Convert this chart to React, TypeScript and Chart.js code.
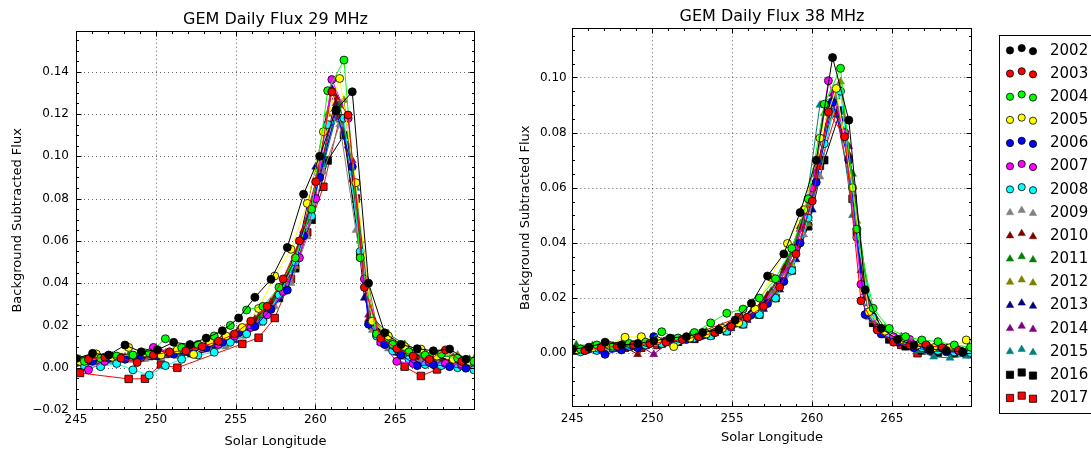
import React, { useEffect, useRef } from 'react';
import { Chart, registerables } from 'chart.js';

Chart.register(...registerables);

const FONT = "'DejaVu Sans', 'Liberation Sans', sans-serif";

const YEARS = ['2002', '2003', '2004', '2005', '2006', '2007', '2008', '2009', '2010', '2011', '2012', '2013', '2014', '2015', '2016', '2017'];
const COLORS = ['#000000', '#ff0000', '#00ff00', '#ffff00', '#0000ff', '#ff00ff', '#00ffff', '#808080', '#800000', '#008000', '#808000', '#000080', '#800080', '#008080', '#000000', '#ff0000'];
const MARKERS = ['circle', 'circle', 'circle', 'circle', 'circle', 'circle', 'circle', 'triangle', 'triangle', 'triangle', 'triangle', 'triangle', 'triangle', 'triangle', 'rect', 'rect'];

// Solar longitude of the daily samples (four day-phase groups)
const SL_A = [245.02, 246.04, 247.05, 248.07, 249.09, 250.10, 251.12, 252.14, 253.16, 254.17, 255.19, 256.21, 257.22, 258.24, 259.26, 260.27, 261.29, 262.31, 263.33, 264.34, 265.36, 266.38, 267.39, 268.41, 269.43];
const SL_B = [245.25, 246.27, 247.28, 248.30, 249.32, 250.33, 251.35, 252.37, 253.39, 254.40, 255.42, 256.44, 257.45, 258.47, 259.49, 260.50, 261.52, 262.54, 263.56, 264.57, 265.59, 266.61, 267.62, 268.64, 269.66];
const SL_C = [245.52, 246.54, 247.55, 248.57, 249.59, 250.60, 251.62, 252.64, 253.66, 254.67, 255.69, 256.71, 257.72, 258.74, 259.76, 260.77, 261.79, 262.81, 263.83, 264.84, 265.86, 266.88, 267.89, 268.91, 269.93];
const SL_D = [245.78, 246.80, 247.81, 248.83, 249.85, 250.86, 251.88, 252.90, 253.92, 254.93, 255.95, 256.97, 257.98, 259.00, 260.02, 261.03, 262.05, 263.07, 264.09, 265.10, 266.12, 267.14, 268.15, 269.17];

// 29 MHz background subtracted flux
const F29_2002 = [0.0044, 0.0068, 0.0060, 0.0107, 0.0075, 0.0085, 0.0120, 0.0110, 0.0140, 0.0175, 0.0235, 0.0333, 0.0418, 0.0569, 0.0821, 0.1000, 0.1220, 0.1305, 0.0400, 0.0165, 0.0110, 0.0090, 0.0080, 0.0088, 0.0040];
const F29_2003 = [0.0040, 0.0050, 0.0045, 0.0025, 0.0060, 0.0075, 0.0080, 0.0100, 0.0125, 0.0160, 0.0220, 0.0290, 0.0420, 0.0600, 0.0880, 0.1305, 0.1195, 0.0380, 0.0140, 0.0090, 0.0055, 0.0040, 0.0084, 0.0030];
const F29_2004 = [0.0030, 0.0045, 0.0055, 0.0060, 0.0070, 0.0137, 0.0095, 0.0110, 0.0150, 0.0200, 0.0273, 0.0290, 0.0380, 0.0520, 0.0750, 0.1310, 0.1455, 0.0520, 0.0160, 0.0110, 0.0075, 0.0060, 0.0065, 0.0045, 0.0030];
const F29_2005 = [0.0030, 0.0065, 0.0050, 0.0096, 0.0070, 0.0060, 0.0085, 0.0063, 0.0120, 0.0150, 0.0190, 0.0280, 0.0434, 0.0560, 0.0777, 0.1116, 0.1368, 0.0875, 0.0220, 0.0150, 0.0100, 0.0088, 0.0055, 0.0040, 0.0030];
const F29_2006 = [0.0025, 0.0030, 0.0045, 0.0040, 0.0050, 0.0055, 0.0065, 0.0070, 0.0095, 0.0120, 0.0165, 0.0195, 0.0276, 0.0367, 0.0624, 0.0900, 0.1215, 0.0950, 0.0206, 0.0110, 0.0060, 0.0010, 0.0015, 0.0005, -0.0002];
const F29_2007 = [-0.0010, 0.0030, 0.0050, 0.0040, 0.0096, 0.0070, 0.0085, 0.0090, 0.0110, 0.0150, 0.0190, 0.0250, 0.0360, 0.0520, 0.0800, 0.1363, 0.1180, 0.0420, 0.0120, 0.0030, 0.0020, 0.0025, 0.0020, 0.0010];
const F29_2008 = [0.0010, 0.0005, 0.0020, -0.0010, -0.0035, 0.0010, 0.0040, 0.0060, 0.0073, 0.0120, 0.0160, 0.0220, 0.0344, 0.0500, 0.0717, 0.1150, 0.1180, 0.0550, 0.0150, 0.0080, 0.0040, 0.0015, 0.0010, 0.0000, -0.0010];
const F29_2009 = [0.0020, 0.0030, 0.0030, 0.0035, 0.0040, 0.0050, 0.0055, 0.0070, 0.0085, 0.0099, 0.0150, 0.0210, 0.0290, 0.0400, 0.0620, 0.0927, 0.1150, 0.0650, 0.0178, 0.0090, 0.0050, 0.0030, 0.0025, 0.0020, 0.0015];
const F29_2010 = [0.0030, 0.0040, 0.0045, 0.0050, 0.0040, 0.0060, 0.0070, 0.0090, 0.0110, 0.0140, 0.0180, 0.0230, 0.0310, 0.0440, 0.0650, 0.0930, 0.1280, 0.0890, 0.0230, 0.0130, 0.0080, 0.0050, 0.0040, 0.0030, 0.0025];
const F29_2011 = [0.0040, 0.0050, 0.0055, 0.0060, 0.0065, 0.0075, 0.0080, 0.0095, 0.0115, 0.0140, 0.0180, 0.0240, 0.0330, 0.0470, 0.0690, 0.1000, 0.1240, 0.0800, 0.0240, 0.0160, 0.0110, 0.0080, 0.0060, 0.0050, 0.0040];
const F29_2012 = [0.0035, 0.0045, 0.0050, 0.0055, 0.0060, 0.0070, 0.0080, 0.0095, 0.0120, 0.0150, 0.0190, 0.0250, 0.0340, 0.0480, 0.0720, 0.1200, 0.1265, 0.0600, 0.0200, 0.0120, 0.0090, 0.0070, 0.0060, 0.0060, 0.0040];
const F29_2013 = [0.0025, 0.0035, 0.0040, 0.0045, 0.0050, 0.0060, 0.0070, 0.0085, 0.0105, 0.0130, 0.0200, 0.0270, 0.0400, 0.0600, 0.0950, 0.1320, 0.1050, 0.0330, 0.0120, 0.0070, 0.0040, 0.0030, 0.0025, 0.0020];
const F29_2014 = [0.0020, 0.0030, 0.0035, 0.0040, 0.0045, 0.0055, 0.0065, 0.0080, 0.0100, 0.0125, 0.0165, 0.0215, 0.0290, 0.0420, 0.0630, 0.0920, 0.1250, 0.0980, 0.0250, 0.0120, 0.0070, 0.0040, 0.0030, 0.0025, 0.0020];
const F29_2015 = [0.0030, 0.0040, 0.0045, 0.0050, 0.0055, 0.0065, 0.0075, 0.0090, 0.0110, 0.0135, 0.0175, 0.0230, 0.0320, 0.0460, 0.0700, 0.0960, 0.1250, 0.0850, 0.0200, 0.0140, 0.0080, 0.0055, 0.0040, 0.0030, 0.0025];
const F29_2016 = [0.0035, 0.0030, 0.0045, 0.0050, 0.0055, 0.0065, 0.0075, 0.0090, 0.0110, 0.0140, 0.0180, 0.0240, 0.0330, 0.0470, 0.0700, 0.0980, 0.1100, 0.0528, 0.0170, 0.0100, 0.0070, 0.0050, 0.0040, 0.0030, 0.0025];
const F29_2017 = [-0.0025, null, null, -0.0053, -0.0052, 0.0015, 0.0000, null, null, null, 0.0113, 0.0142, 0.0235, 0.0420, 0.0640, 0.0856, 0.1180, 0.0800, 0.0200, 0.0110, 0.0005, -0.0039, -0.0008, 0.0040, null];

// 38 MHz background subtracted flux
const F38_2002 = [0.0015, 0.0022, 0.0040, 0.0030, 0.0035, 0.0045, 0.0055, 0.0060, 0.0075, 0.0085, 0.0120, 0.0181, 0.0280, 0.0360, 0.0510, 0.0700, 0.1072, 0.0845, 0.0230, 0.0090, 0.0050, 0.0030, 0.0015, 0.0010, 0.0005];
const F38_2003 = [0.0010, 0.0020, 0.0025, 0.0030, 0.0035, 0.0040, 0.0050, 0.0060, 0.0075, 0.0100, 0.0130, 0.0170, 0.0240, 0.0360, 0.0552, 0.0875, 0.0785, 0.0190, 0.0084, 0.0040, 0.0030, 0.0030, 0.0020, 0.0010];
const F38_2004 = [0.0015, 0.0030, 0.0025, 0.0035, 0.0040, 0.0078, 0.0055, 0.0075, 0.0110, 0.0145, 0.0160, 0.0200, 0.0270, 0.0380, 0.0560, 0.0903, 0.1033, 0.0450, 0.0163, 0.0090, 0.0060, 0.0048, 0.0042, 0.0030, 0.0022];
const F38_2005 = [0.0010, 0.0020, 0.0030, 0.0058, 0.0060, 0.0045, 0.0024, 0.0055, 0.0070, 0.0090, 0.0110, 0.0160, 0.0275, 0.0398, 0.0520, 0.0780, 0.0960, 0.0600, 0.0150, 0.0080, 0.0050, 0.0030, 0.0020, 0.0020, 0.0048];
const F38_2006 = [0.0010, 0.0015, -0.0004, 0.0012, 0.0020, 0.0060, 0.0040, 0.0050, 0.0065, 0.0085, 0.0110, 0.0140, 0.0180, 0.0260, 0.0400, 0.0620, 0.0910, 0.0700, 0.0140, 0.0070, 0.0040, 0.0020, 0.0010, 0.0005, 0.0003];
const F38_2007 = [0.0010, 0.0020, 0.0025, 0.0030, 0.0035, 0.0045, 0.0050, 0.0060, 0.0075, 0.0095, 0.0130, 0.0180, 0.0260, 0.0380, 0.0600, 0.0988, 0.0800, 0.0250, 0.0090, 0.0060, 0.0050, 0.0030, 0.0020, 0.0010];
const F38_2008 = [0.0005, 0.0010, 0.0020, 0.0025, 0.0030, 0.0035, 0.0045, 0.0055, 0.0063, 0.0080, 0.0105, 0.0140, 0.0200, 0.0300, 0.0490, 0.0760, 0.0950, 0.0420, 0.0130, 0.0070, 0.0040, 0.0020, 0.0010, 0.0005, 0.0002];
const F38_2009 = [0.0010, 0.0015, 0.0020, 0.0025, 0.0030, 0.0035, 0.0045, 0.0055, 0.0068, 0.0085, 0.0110, 0.0145, 0.0210, 0.0290, 0.0430, 0.0640, 0.0940, 0.0600, 0.0130, 0.0070, 0.0040, 0.0025, 0.0015, 0.0010, 0.0008];
const F38_2010 = [0.0012, 0.0018, 0.0025, 0.0030, -0.0004, 0.0040, 0.0048, 0.0058, 0.0072, 0.0090, 0.0115, 0.0150, 0.0210, 0.0310, 0.0460, 0.0660, 0.0920, 0.0720, 0.0200, 0.0090, 0.0050, 0.0030, 0.0018, 0.0012, 0.0008];
const F38_2011 = [0.0030, 0.0028, 0.0030, 0.0035, 0.0040, 0.0045, 0.0052, 0.0062, 0.0078, 0.0095, 0.0120, 0.0160, 0.0225, 0.0330, 0.0480, 0.0700, 0.0930, 0.0650, 0.0180, 0.0090, 0.0055, 0.0032, 0.0020, 0.0012, 0.0010];
const F38_2012 = [0.0015, 0.0020, 0.0028, 0.0032, 0.0036, 0.0042, 0.0050, 0.0060, 0.0074, 0.0092, 0.0118, 0.0155, 0.0220, 0.0320, 0.0470, 0.0870, 0.0984, 0.0480, 0.0120, 0.0065, 0.0040, 0.0025, 0.0015, 0.0010, 0.0008];
const F38_2013 = [0.0010, 0.0018, 0.0022, 0.0028, 0.0033, 0.0040, 0.0048, 0.0058, 0.0072, 0.0090, 0.0120, 0.0160, 0.0230, 0.0340, 0.0520, 0.0900, 0.0850, 0.0300, 0.0100, 0.0050, 0.0030, 0.0020, 0.0012, 0.0008];
const F38_2014 = [0.0012, 0.0018, 0.0022, 0.0028, 0.0032, -0.0004, 0.0045, 0.0055, 0.0070, 0.0088, 0.0112, 0.0145, 0.0205, 0.0300, 0.0450, 0.0650, 0.0940, 0.0750, 0.0220, 0.0090, 0.0050, 0.0030, 0.0020, 0.0010, 0.0005];
const F38_2015 = [0.0015, 0.0020, 0.0028, 0.0032, 0.0038, 0.0045, 0.0052, 0.0062, 0.0075, 0.0092, 0.0118, 0.0155, 0.0215, 0.0320, 0.0480, 0.0900, 0.0940, 0.0500, 0.0140, 0.0075, 0.0060, 0.0010, -0.0013, -0.0017, -0.0010];
const F38_2016 = [0.0010, 0.0015, 0.0020, 0.0025, 0.0030, 0.0035, 0.0042, 0.0052, 0.0065, 0.0080, 0.0105, 0.0140, 0.0200, 0.0300, 0.0460, 0.0700, 0.0880, 0.0440, 0.0110, 0.0050, 0.0025, 0.0010, 0.0002, 0.0000, -0.0003];
const F38_2017 = [0.0010, null, null, 0.0020, 0.0020, 0.0030, 0.0040, null, null, null, 0.0130, 0.0145, 0.0210, 0.0310, 0.0470, 0.0680, 0.0870, 0.0560, 0.0140, 0.0070, 0.0030, 0.0000, 0.0005, 0.0020, null];

const X_TICKS = [245, 250, 255, 260, 265];
const Y29_TICKS = [-0.02, 0, 0.02, 0.04, 0.06, 0.08, 0.1, 0.12, 0.14];
const Y38_TICKS = [0, 0.02, 0.04, 0.06, 0.08, 0.1];

const SL_OF_YEAR = [SL_A, SL_D, SL_C, SL_B, SL_A, SL_D, SL_C, SL_B, SL_A, SL_B, SL_C, SL_D, SL_A, SL_B, SL_C, SL_B];
const FLUX29 = [F29_2002, F29_2003, F29_2004, F29_2005, F29_2006, F29_2007, F29_2008, F29_2009, F29_2010, F29_2011, F29_2012, F29_2013, F29_2014, F29_2015, F29_2016, F29_2017];
const FLUX38 = [F38_2002, F38_2003, F38_2004, F38_2005, F38_2006, F38_2007, F38_2008, F38_2009, F38_2010, F38_2011, F38_2012, F38_2013, F38_2014, F38_2015, F38_2016, F38_2017];

function fmt(v: number) {
  return v < -1e-9 ? '\u2212' + Math.abs(v).toFixed(2) : Math.abs(v).toFixed(2);
}

function buildDatasets(flux: (number | null)[][]) {
  return YEARS.map((yr, i) => {
    const m = MARKERS[i];
    const c = COLORS[i];
    const radius = m === 'circle' ? 4 : m === 'triangle' ? 4.6 : 5.3;
    return {
      label: yr,
      data: SL_OF_YEAR[i].map((x, k) => ({ x, y: flux[i][k] })),
      borderColor: c,
      backgroundColor: c,
      borderWidth: 1,
      pointStyle: m,
      pointRadius: radius,
      pointHoverRadius: radius,
      pointBackgroundColor: c,
      pointBorderColor: m === 'triangle' ? c : '#000000',
      pointBorderWidth: m === 'triangle' ? 0.5 : 0.8,
      tension: 0,
      spanGaps: true,
      fill: false,
      order: i,
    };
  });
}

function axesDecor(xMajor: number[], yMajor: number[], xMinorStep: number, yMinorStep: number) {
  const minorList = (min: number, max: number, step: number) => {
    const out: number[] = [];
    for (let k = Math.ceil(min / step - 1e-6); k * step <= max + 1e-9; k++) out.push(k * step);
    return out;
  };
  return {
    id: 'axesDecor',
    beforeDatasetsDraw(chart: any) {
      const { ctx, chartArea: a, scales } = chart;
      ctx.save();
      ctx.strokeStyle = 'rgba(0,0,0,0.6)';
      ctx.lineWidth = 1;
      ctx.setLineDash([1, 3]);
      for (const v of xMajor) {
        const px = Math.round(scales.x.getPixelForValue(v)) + 0.5;
        if (px <= a.left + 1 || px >= a.right - 1) continue;
        ctx.beginPath();
        ctx.moveTo(px, a.top);
        ctx.lineTo(px, a.bottom);
        ctx.stroke();
      }
      for (const v of yMajor) {
        const py = Math.round(scales.y.getPixelForValue(v)) + 0.5;
        if (py <= a.top + 1 || py >= a.bottom - 1) continue;
        ctx.beginPath();
        ctx.moveTo(a.left, py);
        ctx.lineTo(a.right, py);
        ctx.stroke();
      }
      ctx.restore();
    },
    afterDatasetsDraw(chart: any) {
      const { ctx, chartArea: a, scales } = chart;
      const L = Math.round(a.left) + 0.5;
      const R = Math.round(a.right) - 0.5;
      const T = Math.round(a.top) + 0.5;
      const B = Math.round(a.bottom) - 0.5;
      ctx.save();
      ctx.strokeStyle = '#000';
      ctx.lineWidth = 1;
      ctx.setLineDash([]);
      const tickX = (v: number, len: number) => {
        const px = Math.round(scales.x.getPixelForValue(v)) + 0.5;
        if (px < L || px > R) return;
        ctx.beginPath();
        ctx.moveTo(px, B); ctx.lineTo(px, B - len);
        ctx.moveTo(px, T); ctx.lineTo(px, T + len);
        ctx.stroke();
      };
      const tickY = (v: number, len: number) => {
        const py = Math.round(scales.y.getPixelForValue(v)) + 0.5;
        if (py < T || py > B) return;
        ctx.beginPath();
        ctx.moveTo(L, py); ctx.lineTo(L + len, py);
        ctx.moveTo(R, py); ctx.lineTo(R - len, py);
        ctx.stroke();
      };
      minorList(scales.x.min, scales.x.max, xMinorStep).forEach((v) => tickX(v, 2.5));
      minorList(scales.y.min, scales.y.max, yMinorStep).forEach((v) => tickY(v, 2.5));
      xMajor.forEach((v) => tickX(v, 5));
      yMajor.forEach((v) => tickY(v, 5));
      ctx.strokeRect(L, T, R - L, B - T);
      ctx.restore();
    },
  };
}

function drawMarker(ctx: CanvasRenderingContext2D, style: string, x: number, y: number, color: string) {
  ctx.beginPath();
  if (style === 'circle') {
    ctx.arc(x, y, 3.6, 0, Math.PI * 2);
  } else if (style === 'triangle') {
    const r = 4.3;
    ctx.moveTo(x, y - r);
    ctx.lineTo(x + r * 0.866, y + r * 0.5);
    ctx.lineTo(x - r * 0.866, y + r * 0.5);
    ctx.closePath();
  } else {
    ctx.rect(x - 3.6, y - 3.6, 7.2, 7.2);
  }
  ctx.fillStyle = color;
  ctx.fill();
  ctx.strokeStyle = style === 'triangle' ? color : '#000';
  ctx.lineWidth = style === 'triangle' ? 0.5 : 0.8;
  ctx.stroke();
}

const yearLegend = {
  id: 'yearLegend',
  afterDraw(chart: any) {
    const ctx = chart.ctx as CanvasRenderingContext2D;
    const left = 499.5;
    const top = 35.5;
    const bottom = 413.5;
    ctx.save();
    ctx.fillStyle = '#ffffff';
    ctx.fillRect(left, top, 200, bottom - top);
    ctx.strokeStyle = '#000';
    ctx.lineWidth = 1;
    ctx.strokeRect(left, top, 200, bottom - top);
    ctx.font = `15px ${FONT}`;
    ctx.textBaseline = 'middle';
    ctx.textAlign = 'left';
    const offs: [number, number][] = [[510, -0.3], [521.7, -2.6], [533, 0.5]];
    YEARS.forEach((yr, i) => {
      const cy = 50.7 + i * 23.17;
      offs.forEach(([mx, dy]) => drawMarker(ctx, MARKERS[i], mx, cy + dy, COLORS[i]));
      ctx.fillStyle = '#000';
      ctx.fillText(yr, 550, cy);
    });
    ctx.restore();
  },
};

type Panel = {
  title: string;
  flux: (number | null)[][];
  yMin: number;
  yMax: number;
  yTicks: number[];
  yWidth: number;
  xHeight: number;
  padRight: number;
  titlePad: { top: number; bottom: number };
  yTitlePad: number;
  xTitlePad: number;
  xTickPad: number;
  yTickPad: number;
  extra: any[];
};

function makeConfig(p: Panel): any {
  return {
    type: 'line',
    data: { datasets: buildDatasets(p.flux) },
    plugins: [axesDecor(X_TICKS, p.yTicks, 1, 0.005), ...p.extra],
    options: {
      responsive: false,
      animation: false,
      devicePixelRatio: 1,
      events: [],
      layout: { padding: { left: 0, right: p.padRight, top: 0, bottom: 0 } },
      plugins: {
        legend: { display: false },
        tooltip: { enabled: false },
        title: {
          display: true,
          text: p.title,
          color: '#000',
          font: { family: FONT, size: 16, weight: 'normal' },
          padding: p.titlePad,
          fullSize: false,
        },
      },
      scales: {
        x: {
          type: 'linear',
          min: 245,
          max: 270,
          afterBuildTicks: (s: any) => { s.ticks = X_TICKS.map((v) => ({ value: v })); },
          afterFit: (s: any) => { s.height = p.xHeight; },
          grid: { display: false, drawTicks: false },
          border: { display: false },
          ticks: {
            autoSkip: false,
            maxRotation: 0,
            color: '#000',
            padding: p.xTickPad,
            font: { family: FONT, size: 12 },
            callback: (v: any) => String(Math.round(Number(v))),
          },
          title: {
            display: true,
            text: 'Solar Longitude',
            color: '#000',
            font: { family: FONT, size: 13 },
            padding: { top: 0, bottom: p.xTitlePad },
          },
        },
        y: {
          type: 'linear',
          min: p.yMin,
          max: p.yMax,
          afterBuildTicks: (s: any) => { s.ticks = p.yTicks.map((v) => ({ value: v })); },
          afterFit: (s: any) => { s.width = p.yWidth; },
          grid: { display: false, drawTicks: false },
          border: { display: false },
          ticks: {
            autoSkip: false,
            color: '#000',
            padding: p.yTickPad,
            font: { family: FONT, size: 12 },
            callback: (v: any) => fmt(Number(v)),
          },
          title: {
            display: true,
            text: 'Background Subtracted Flux',
            color: '#000',
            font: { family: FONT, size: 13 },
            padding: { top: p.yTitlePad, bottom: 0 },
          },
        },
      },
    },
  };
}

const LEFT_PANEL: Panel = {
  title: 'GEM Daily Flux 29 MHz',
  flux: FLUX29,
  yMin: -0.02,
  yMax: 0.1594,
  yTicks: Y29_TICKS,
  yWidth: 76,
  xHeight: 39,
  padRight: 25,
  titlePad: { top: 9.9, bottom: 1.6 },
  yTitlePad: 10.2,
  xTitlePad: 0,
  xTickPad: 2.2,
  yTickPad: 7,
  extra: [],
};

const RIGHT_PANEL: Panel = {
  title: 'GEM Daily Flux 38 MHz',
  flux: FLUX38,
  yMin: -0.0196,
  yMax: 0.1178,
  yTicks: Y38_TICKS,
  yWidth: 72.3,
  xHeight: 41.7,
  padRight: 119.3,
  titlePad: { top: 7.6, bottom: 1.5 },
  yTitlePad: 17.9,
  xTitlePad: 3.6,
  xTickPad: 3.9,
  yTickPad: 5.6,
  extra: [yearLegend],
};

function PanelChart({ panel, left, width }: { panel: Panel; left: number; width: number }) {
  const ref = useRef<HTMLCanvasElement | null>(null);
  useEffect(() => {
    if (!ref.current) return;
    const chart = new Chart(ref.current, makeConfig(panel));
    return () => chart.destroy();
  }, [panel]);
  return (
    <canvas
      ref={ref}
      width={width}
      height={449}
      style={{ position: 'absolute', left, top: 0, width, height: 449, display: 'block' }}
    />
  );
}

export default function App() {
  return (
    <div style={{ position: 'fixed', left: 0, top: 0, width: 1091, height: 449, background: '#ffffff', overflow: 'hidden' }}>
      <PanelChart panel={LEFT_PANEL} left={0} width={500} />
      <PanelChart panel={RIGHT_PANEL} left={500} width={591} />
    </div>
  );
}
